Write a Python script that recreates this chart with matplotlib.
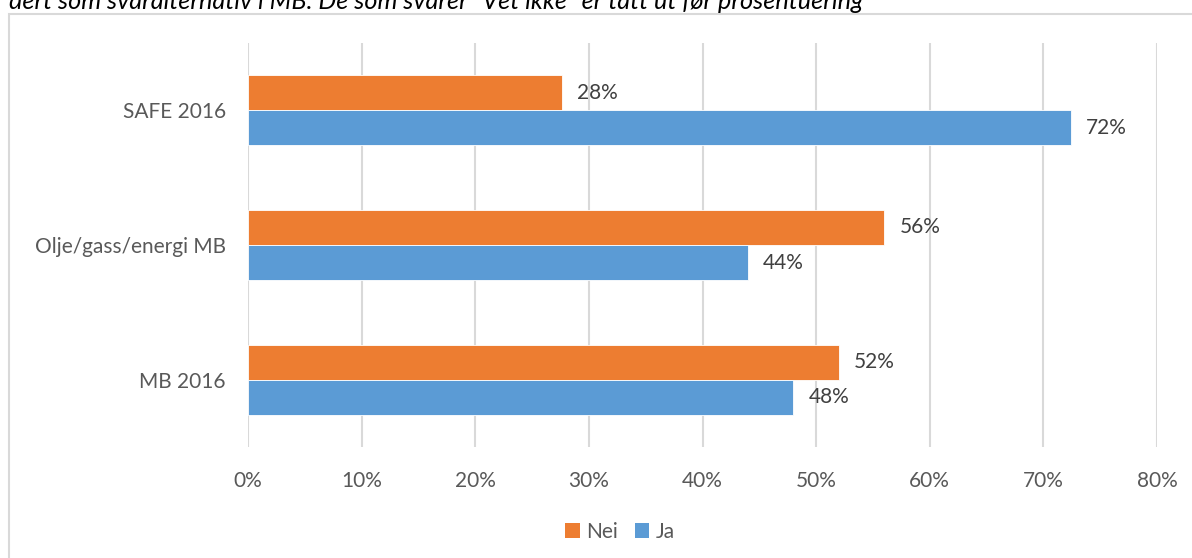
import matplotlib
matplotlib.use("Agg")
import matplotlib.pyplot as plt
from matplotlib.patches import Rectangle, Patch
from matplotlib.ticker import FuncFormatter

categories = ["MB 2016", "Olje/gass/energi MB", "SAFE 2016"]
nei = [52, 56, 27.6]
ja = [48, 44, 72.4]
nei_labels = ["52%", "56%", "28%"]
ja_labels = ["48%", "44%", "72%"]
xticks = [0, 10, 20, 30, 40, 50, 60, 70, 80]
title = "dert som svaralternativ i MB. De som svarer \u201cVet ikke\u201d er tatt ut før prosentuering"

plt.rcParams['font.family'] = ['Lato', 'DejaVu Sans']

W, H = 1192, 558
fig = plt.figure(figsize=(W / 100, H / 100), dpi=100)
ax = fig.add_axes([248 / W, (H - 447) / H, (1157 - 248) / W, (447 - 43) / H])

orange = "#ED7D31"
blue = "#5B9BD5"
bh = 0.26
y = list(range(len(categories)))
ax.barh([v + bh / 2 for v in y], nei, height=bh, color=orange, edgecolor="white", linewidth=0.6, label="Nei", zorder=3)
ax.barh([v - bh / 2 for v in y], ja, height=bh, color=blue, edgecolor="white", linewidth=0.6, label="Ja", zorder=3)

for i in y:
    ax.annotate(nei_labels[i], (nei[i], i + bh / 2), xytext=(15, 0), textcoords="offset pixels",
                va="center", ha="left", fontsize=15, color="#404040")
    ax.annotate(ja_labels[i], (ja[i], i - bh / 2), xytext=(15, 0), textcoords="offset pixels",
                va="center", ha="left", fontsize=15, color="#404040")

ax.set_xlim(0, 80)
ax.set_ylim(-0.5, 2.5)
ax.set_xticks(xticks)
ax.xaxis.set_major_formatter(FuncFormatter(lambda v, p: f"{int(v)}%"))
ax.set_yticks(y)
ax.set_yticklabels(categories)
ax.tick_params(axis="both", length=0, labelsize=15, labelcolor="#595959")
ax.tick_params(axis="y", pad=16)
ax.tick_params(axis="x", pad=17)
ax.grid(axis="x", color="#D9D9D9", linewidth=1.5, zorder=0)
for s in ax.spines.values():
    s.set_visible(False)

handles = [Patch(facecolor=orange, label="Nei"), Patch(facecolor=blue, label="Ja")]
fig.legend(handles=handles, loc="center", bbox_to_anchor=(620 / W, (H - 532) / H), ncol=2, frameon=False,
           fontsize=15, handlelength=0.7, handleheight=0.7, handletextpad=0.3, columnspacing=0.8,
           labelcolor="#595959")

fig.patches.append(Rectangle((9 / W, -0.1), 1.2, (H - 14) / H + 0.1, transform=fig.transFigure,
                             fill=False, edgecolor="#D9D9D9", linewidth=1.5))

fig.text(9 / W, (H - 9) / H, title, style="italic", fontsize=18.2, color="#000000", va="baseline", ha="left")

fig.savefig("out.png", dpi=100)
